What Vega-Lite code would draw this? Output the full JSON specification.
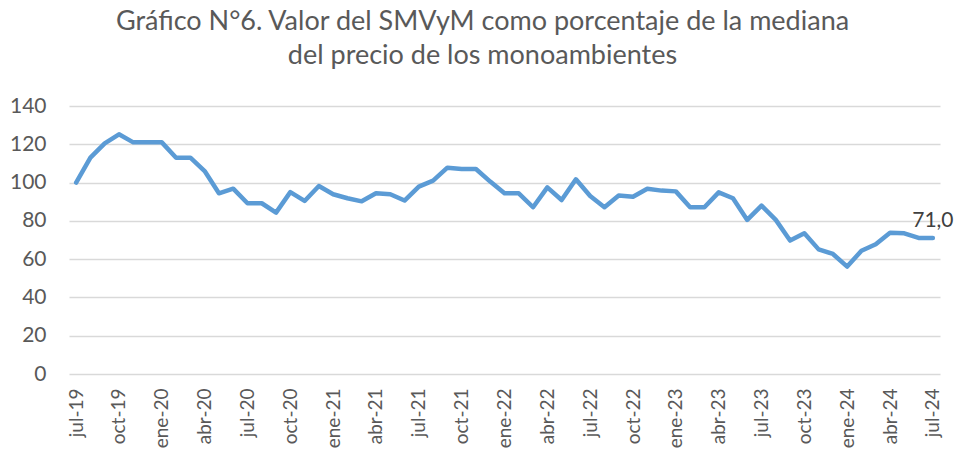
{
  "$schema": "https://vega.github.io/schema/vega-lite/v6.json",
  "autosize": "none",
  "width": 871,
  "height": 268,
  "padding": {"left": 69, "top": 106, "right": 14, "bottom": 79},
  "background": "white",
  "title": {
    "text": ["Gráfico N°6. Valor del SMVyM como porcentaje de la mediana", "del precio de los monoambientes"],
    "font": "Lato",
    "fontSize": 27,
    "fontWeight": "normal",
    "color": "#595959",
    "anchor": "middle",
    "frame": "group",
    "dx": -22,
    "offset": 25,
    "lineHeight": 34
  },
  "data": {
    "values": [
      {"mes": "jul-19", "valor": 100.0},
      {"mes": "ago-19", "valor": 113.0},
      {"mes": "sep-19", "valor": 120.5},
      {"mes": "oct-19", "valor": 125.2},
      {"mes": "nov-19", "valor": 121.0},
      {"mes": "dic-19", "valor": 121.0},
      {"mes": "ene-20", "valor": 121.0},
      {"mes": "feb-20", "valor": 113.0},
      {"mes": "mar-20", "valor": 113.0},
      {"mes": "abr-20", "valor": 106.0},
      {"mes": "may-20", "valor": 94.4},
      {"mes": "jun-20", "valor": 96.8},
      {"mes": "jul-20", "valor": 89.2},
      {"mes": "ago-20", "valor": 89.2},
      {"mes": "sep-20", "valor": 84.3},
      {"mes": "oct-20", "valor": 95.0},
      {"mes": "nov-20", "valor": 90.4},
      {"mes": "dic-20", "valor": 98.2},
      {"mes": "ene-21", "valor": 93.9},
      {"mes": "feb-21", "valor": 91.8},
      {"mes": "mar-21", "valor": 90.2},
      {"mes": "abr-21", "valor": 94.4},
      {"mes": "may-21", "valor": 93.9},
      {"mes": "jun-21", "valor": 90.6},
      {"mes": "jul-21", "valor": 97.9},
      {"mes": "ago-21", "valor": 101.0},
      {"mes": "sep-21", "valor": 107.8},
      {"mes": "oct-21", "valor": 107.1},
      {"mes": "nov-21", "valor": 107.1},
      {"mes": "dic-21", "valor": 100.5},
      {"mes": "ene-22", "valor": 94.4},
      {"mes": "feb-22", "valor": 94.4},
      {"mes": "mar-22", "valor": 87.1},
      {"mes": "abr-22", "valor": 97.5},
      {"mes": "may-22", "valor": 90.9},
      {"mes": "jun-22", "valor": 101.7},
      {"mes": "jul-22", "valor": 93.0},
      {"mes": "ago-22", "valor": 87.1},
      {"mes": "sep-22", "valor": 93.3},
      {"mes": "oct-22", "valor": 92.6},
      {"mes": "nov-22", "valor": 96.8},
      {"mes": "dic-22", "valor": 95.8},
      {"mes": "ene-23", "valor": 95.4},
      {"mes": "feb-23", "valor": 87.1},
      {"mes": "mar-23", "valor": 87.1},
      {"mes": "abr-23", "valor": 94.9},
      {"mes": "may-23", "valor": 91.8},
      {"mes": "jun-23", "valor": 80.5},
      {"mes": "jul-23", "valor": 88.0},
      {"mes": "ago-23", "valor": 80.5},
      {"mes": "sep-23", "valor": 69.7},
      {"mes": "oct-23", "valor": 73.5},
      {"mes": "nov-23", "valor": 65.1},
      {"mes": "dic-23", "valor": 62.7},
      {"mes": "ene-24", "valor": 56.1},
      {"mes": "feb-24", "valor": 64.4},
      {"mes": "mar-24", "valor": 67.8},
      {"mes": "abr-24", "valor": 73.8},
      {"mes": "may-24", "valor": 73.5},
      {"mes": "jun-24", "valor": 71.1},
      {"mes": "jul-24", "valor": 71.0, "etiqueta": "71,0"}
    ]
  },
  "encoding": {
    "x": {
      "field": "mes",
      "type": "ordinal",
      "sort": null,
      "scale": {"type": "point", "padding": 0.5},
      "axis": {
        "title": null,
        "values": ["jul-19","oct-19","ene-20","abr-20","jul-20","oct-20","ene-21","abr-21","jul-21","oct-21","ene-22","abr-22","jul-22","oct-22","ene-23","abr-23","jul-23","oct-23","ene-24","abr-24","jul-24"],
        "labelAngle": -90,
        "labelFont": "Lato",
        "labelFontSize": 19,
        "labelColor": "#595959",
        "labelPadding": 14,
        "ticks": false,
        "domain": false,
        "grid": false
      }
    },
    "y": {
      "field": "valor",
      "type": "quantitative",
      "scale": {"domain": [0, 140]},
      "axis": {
        "title": null,
        "values": [0, 20, 40, 60, 80, 100, 120, 140],
        "labelFont": "Lato",
        "labelFontSize": 21,
        "labelColor": "#595959",
        "labelPadding": 23,
        "ticks": false,
        "domain": false,
        "grid": true,
        "gridColor": "#d9d9d9",
        "gridWidth": 1.5
      }
    }
  },
  "layer": [
    {
      "mark": {"type": "line", "color": "#5B9BD5", "strokeWidth": 4.5, "strokeCap": "round", "strokeJoin": "round"}
    },
    {
      "transform": [{"filter": "datum.etiqueta != null"}],
      "mark": {"type": "text", "font": "Lato", "fontSize": 21, "color": "#404040", "dy": -11, "baseline": "alphabetic", "align": "center"},
      "encoding": {"text": {"field": "etiqueta"}}
    }
  ],
  "config": {"view": {"stroke": null}}
}
